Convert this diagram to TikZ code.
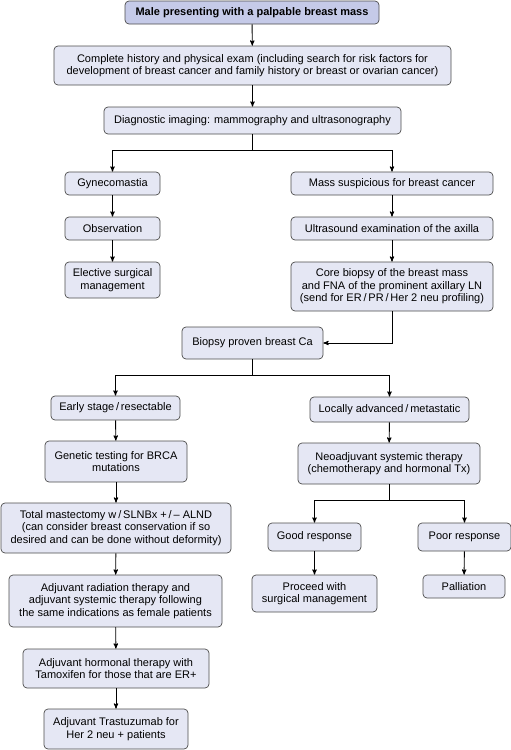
\documentclass[tikz,border=0pt]{standalone}
\usepackage{fontspec}
\setmainfont{Liberation Sans}
\usetikzlibrary{shapes,arrows,positioning,calc}
\definecolor{boxfill}{RGB}{229,231,244}
\definecolor{topfill}{RGB}{197,202,232}
\tikzstyle{block} = [rectangle, draw=black!70, fill=boxfill, text centered, align=center, rounded corners=4pt, inner sep=0pt, line width=0.7pt, font=\fontsize{11}{12.6}\selectfont]
\tikzstyle{head} = [block, fill=topfill, font=\fontsize{11}{12.6}\selectfont\bfseries]
\tikzstyle{branch} = [coordinate]

\begin{document}
\begin{tikzpicture}[x=1pt, y=-1pt, >=stealth', line width=0.9pt]
    \useasboundingbox (0,0) rectangle (511,750);
    % presentation and work-up
    \node[head, minimum width=254pt, minimum height=23pt] (male) at (252,12.5) {Male presenting with a palpable breast mass};
    \node[block, minimum width=397pt, minimum height=39pt] (history) at (252.5,65.5) {Complete history and physical exam (including search for risk factors for\\development of breast cancer and family history or breast or ovarian cancer)};
    \node[block, minimum width=297pt, minimum height=27pt] (imaging) at (252.5,120.5) {Diagnostic imaging: mammography and ultrasonography};
    \node[branch] (split1) at (252.5,150) {};

    % benign side
    \node[block, minimum width=95pt, minimum height=23pt] (gyneco) at (112.5,183.5) {Gynecomastia};
    \node[block, minimum width=95pt, minimum height=23pt] (observe) at (112.5,228.5) {Observation};
    \node[block, minimum width=95pt, minimum height=36pt] (elective) at (112.5,280) {Elective surgical\\management};

    % suspicious side
    \node[block, minimum width=202pt, minimum height=23pt] (suspect) at (392,183.5) {Mass suspicious for breast cancer};
    \node[block, minimum width=202pt, minimum height=23pt] (axilla) at (392,228.5) {Ultrasound examination of the axilla};
    \node[block, minimum width=202pt, minimum height=49pt] (corebx) at (392,286.5) {Core biopsy of the breast mass\\and FNA of the prominent axillary LN\\(send for ER\,/\,PR\,/\,Her 2 neu profiling)};
    \node[block, minimum width=141pt, minimum height=32pt] (proven) at (252.5,343) {Biopsy proven breast Ca};
    \node[branch] (split2) at (252.5,375) {};

    % early stage
    \node[block, minimum width=129pt, minimum height=24pt] (early) at (115.5,408) {Early stage\,/\,resectable};
    \node[block, minimum width=142pt, minimum height=41pt] (brca) at (116,461.5) {Genetic testing for BRCA\\mutations};
    \node[block, minimum width=230pt, minimum height=50pt] (mastect) at (116,528) {Total mastectomy w\,/\,SLNBx +\,/\,-- ALND\\(can consider breast conservation if so\\desired and can be done without deformity)};
    \node[block, minimum width=213pt, minimum height=52pt] (radio) at (115.5,601) {Adjuvant radiation therapy and\\adjuvant systemic therapy following\\the same indications as female patients};
    \node[block, minimum width=186pt, minimum height=39pt] (hormone) at (116,668.5) {Adjuvant hormonal therapy with\\Tamoxifen for those that are ER+};
    \node[block, minimum width=144pt, minimum height=40pt] (trastu) at (116,729) {Adjuvant Trastuzumab for\\Her 2 neu + patients};

    % advanced
    \node[block, minimum width=159pt, minimum height=25pt] (advanced) at (389.5,409.5) {Locally advanced\,/\,metastatic};
    \node[block, minimum width=182pt, minimum height=41pt] (neoadj) at (389,463.5) {Neoadjuvant systemic therapy\\(chemotherapy and hormonal Tx)};
    \node[branch] (split3) at (389,500) {};
    \node[block, minimum width=93pt, minimum height=28pt] (good) at (314.5,537) {Good response};
    \node[block, minimum width=93pt, minimum height=28pt] (poor) at (464.5,537) {Poor response};
    \node[block, minimum width=125pt, minimum height=37pt] (surgery) at (314.5,593.5) {Proceed with\\surgical management};
    \node[block, minimum width=82pt, minimum height=23pt] (palliate) at (464,586.5) {Palliation};

    % connectors
    \draw[->] (male) -- (history);
    \draw[->] (history) -- (imaging);
    \draw (imaging) -- (split1);
    \draw[->] (split1) -| (gyneco);
    \draw[->] (split1) -| (suspect);
    \draw[->] (gyneco) -- (observe);
    \draw[->] (observe) -- (elective);
    \draw[->] (suspect) -- (axilla);
    \draw[->] (axilla) -- (corebx);
    \draw[->] (corebx) |- (proven);
    \draw (proven) -- (split2);
    \draw[->] (split2) -| (early);
    \draw[->] (split2) -| (advanced);
    \draw[->] (early) -- (brca);
    \draw[->] (brca) -- (mastect);
    \draw[->] (mastect) -- (radio);
    \draw[->] (radio) -- (hormone);
    \draw[->] (hormone) -- (trastu);
    \draw[->] (advanced) -- (neoadj);
    \draw (neoadj) -- (split3);
    \draw[->] (split3) -| (good);
    \draw[->] (split3) -| (poor);
    \draw[->] (good) -- (surgery);
    \draw[->] (poor) -- (palliate);
\end{tikzpicture}
\end{document}
